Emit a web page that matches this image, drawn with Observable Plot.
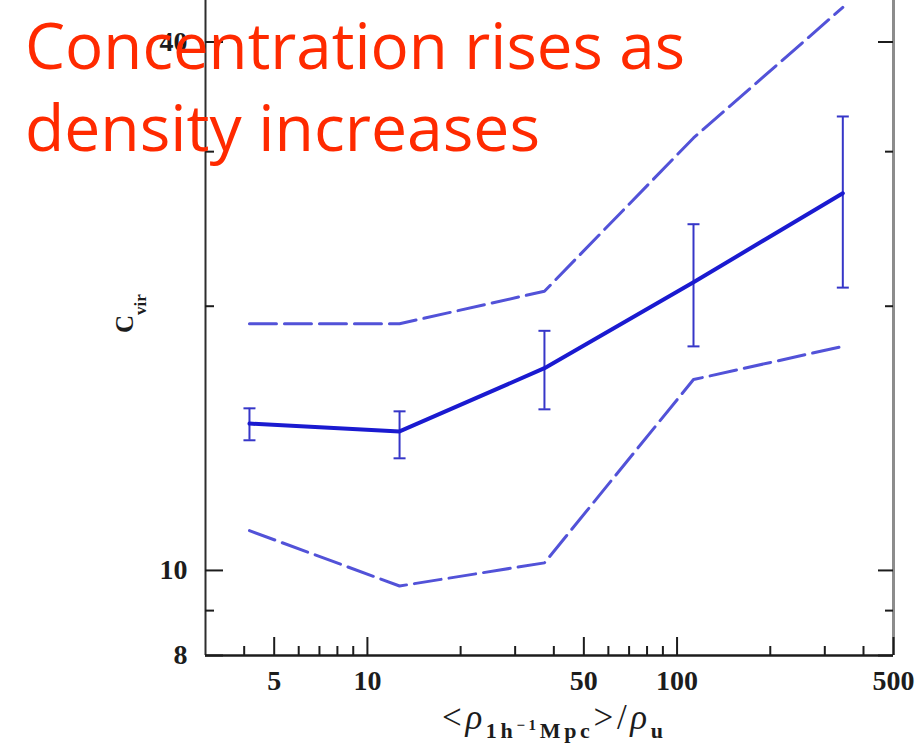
<!DOCTYPE html>
<html>
<head>
<meta charset="utf-8">
<script src="https://cdn.jsdelivr.net/npm/d3@7"></script>
<script src="https://cdn.jsdelivr.net/npm/@observablehq/plot@0.6"></script>
<style>
  html, body { margin: 0; padding: 0; background: #fff; }
  #chart { width: 920px; height: 745px; overflow: hidden; }
</style>
</head>
<body>
<div id="chart"></div>
<script>
// Mean local density in units of the universal density, one value per bin
const density = [4.16, 12.7, 37.3, 113, 343];
// Median virial concentration per density bin
const cvirMedian = [14.7, 14.4, 17.0, 21.3, 26.9];
// Error bar limits around the median
const cvirErrLow = [14.07, 13.42, 15.26, 18.0, 21.0];
const cvirErrHigh = [15.3, 15.18, 18.75, 24.8, 32.9];
// Upper and lower envelopes of the distribution (dashed)
const cvirUpper = [19.1, 19.1, 20.8, 31.1, 43.8];
const cvirLower = [11.1, 9.6, 10.2, 16.5, 18.0];

// Tick values
const xMajorTicks = [5, 10, 50, 100, 500];
const xMinorTicks = [4, 6, 7, 8, 9, 20, 30, 40, 60, 70, 80, 90, 200, 300, 400];
const yMajorTicks = [8, 10, 40];
const yMinorTicks = [9, 20, 30];

const titleLines = ["Concentration rises as", "density increases"];

const rows = density.map((d, i) => ({
  density: d,
  median: cvirMedian[i],
  lo: cvirErrLow[i],
  hi: cvirErrHigh[i],
  upper: cvirUpper[i],
  lower: cvirLower[i]
}));

const W = 920, H = 745;
const mL = 205, mR = 27, mT = 0, mB = 90;
const frameW = W - mL - mR, frameH = H - mT - mB;

// horizontal bar used as an error-bar cap
const capSymbol = {
  draw(ctx, size) {
    const w = Math.sqrt(size / Math.PI);
    ctx.moveTo(-w, 0);
    ctx.lineTo(w, 0);
  }
};

const ink = "#1c1c1c";
const tickFont = {fontFamily: "'Liberation Serif', serif", fontSize: 28, fontWeight: "bold", fill: ink};
const errColor = "#3636c8";
const dashColor = "#5252d8";

const chart = Plot.plot({
  width: W, height: H,
  marginLeft: mL, marginRight: mR, marginTop: mT, marginBottom: mB,
  x: {type: "log", domain: [3, 500], label: null, axis: null},
  y: {type: "log", domain: [8, 44.6], label: null, axis: null},
  marks: [
    Plot.line(rows, {x: "density", y: "upper", stroke: dashColor, strokeWidth: 3, strokeDasharray: "27,8"}),
    Plot.line(rows, {x: "density", y: "lower", stroke: dashColor, strokeWidth: 3, strokeDasharray: "27,8"}),
    Plot.ruleX(rows, {x: "density", y1: "lo", y2: "hi", stroke: errColor, strokeWidth: 2}),
    Plot.dot(rows, {x: "density", y: "lo", symbol: capSymbol, r: 6, fill: "none", stroke: errColor, strokeWidth: 2}),
    Plot.dot(rows, {x: "density", y: "hi", symbol: capSymbol, r: 6, fill: "none", stroke: errColor, strokeWidth: 2}),
    Plot.line(rows, {x: "density", y: "median", stroke: "#1a1ad0", strokeWidth: 4}),

    // frame: left, right and bottom edges
    Plot.ruleX([3], {stroke: "#2e2e2e", strokeWidth: 2}),
    Plot.ruleX([500], {stroke: "#8c8c8c", strokeWidth: 3}),
    Plot.ruleY([8], {stroke: ink, strokeWidth: 2.5}),

    // inward ticks
    Plot.tickX(xMajorTicks, {x: d => d, insetTop: frameH - 18, stroke: ink, strokeWidth: 2}),
    Plot.tickX(xMinorTicks, {x: d => d, insetTop: frameH - 9, stroke: ink, strokeWidth: 2}),
    Plot.tickY(yMajorTicks, {y: d => d, insetRight: frameW - 18, stroke: ink, strokeWidth: 2}),
    Plot.tickY(yMinorTicks, {y: d => d, insetRight: frameW - 9, stroke: ink, strokeWidth: 2}),
    Plot.tickY(yMajorTicks, {y: d => d, insetLeft: frameW - 15, stroke: ink, strokeWidth: 2}),
    Plot.tickY(yMinorTicks, {y: d => d, insetLeft: frameW - 8, stroke: ink, strokeWidth: 2}),

    // tick labels
    Plot.text(xMajorTicks, {x: d => d, text: d => String(d), frameAnchor: "bottom", lineAnchor: "top", dy: 15, ...tickFont}),
    Plot.text(yMajorTicks, {y: d => d, text: d => String(d), frameAnchor: "left", textAnchor: "end", dx: -18, ...tickFont})
  ]
});

const svg = d3.select(chart);

// x-axis title: <rho_{1h^-1 Mpc}> / rho_u
const xt = svg.append("text")
  .attr("x", 442).attr("y", 729)
  .attr("text-anchor", "start")
  .attr("textLength", 221)
  .attr("lengthAdjust", "spacing")
  .attr("font-family", "'Liberation Serif', serif")
  .attr("font-size", 35)
  .attr("fill", ink);
xt.append("tspan").text("<");
xt.append("tspan").attr("font-style", "italic").text("ρ");
xt.append("tspan").attr("font-size", 22).attr("font-weight", "bold").attr("dy", 9).text("1h");
xt.append("tspan").attr("font-size", 15).attr("font-weight", "bold").attr("dy", -8).text("−1");
xt.append("tspan").attr("font-size", 22).attr("font-weight", "bold").attr("dy", 8).text("Mpc");
xt.append("tspan").attr("dy", -9).text(">/");
xt.append("tspan").attr("font-style", "italic").text("ρ");
xt.append("tspan").attr("font-size", 22).attr("font-weight", "bold").attr("dy", 9).text("u");

// y-axis title: c_vir
const yt = svg.append("text")
  .attr("transform", "translate(133,333) rotate(-90)")
  .attr("text-anchor", "start")
  .attr("font-family", "'Liberation Serif', serif")
  .attr("font-size", 25)
  .attr("font-weight", "bold")
  .attr("fill", ink);
yt.append("tspan").text("C");
yt.append("tspan").attr("font-size", 17).attr("dy", 13).text("vir");

// headline over the plot
const head = svg.append("g")
  .attr("font-family", "'Open Sans', sans-serif")
  .attr("text-anchor", "start")
  .attr("fill", "#ff2a00");
head.append("text").attr("x", 25).attr("y", 69).attr("font-size", 64)
  .attr("textLength", 660).attr("lengthAdjust", "spacingAndGlyphs").text(titleLines[0]);
head.append("text").attr("x", 25).attr("y", 151).attr("font-size", 64)
  .attr("textLength", 515).attr("lengthAdjust", "spacingAndGlyphs").text(titleLines[1]);

document.getElementById("chart").appendChild(chart);
</script>
</body>
</html>
